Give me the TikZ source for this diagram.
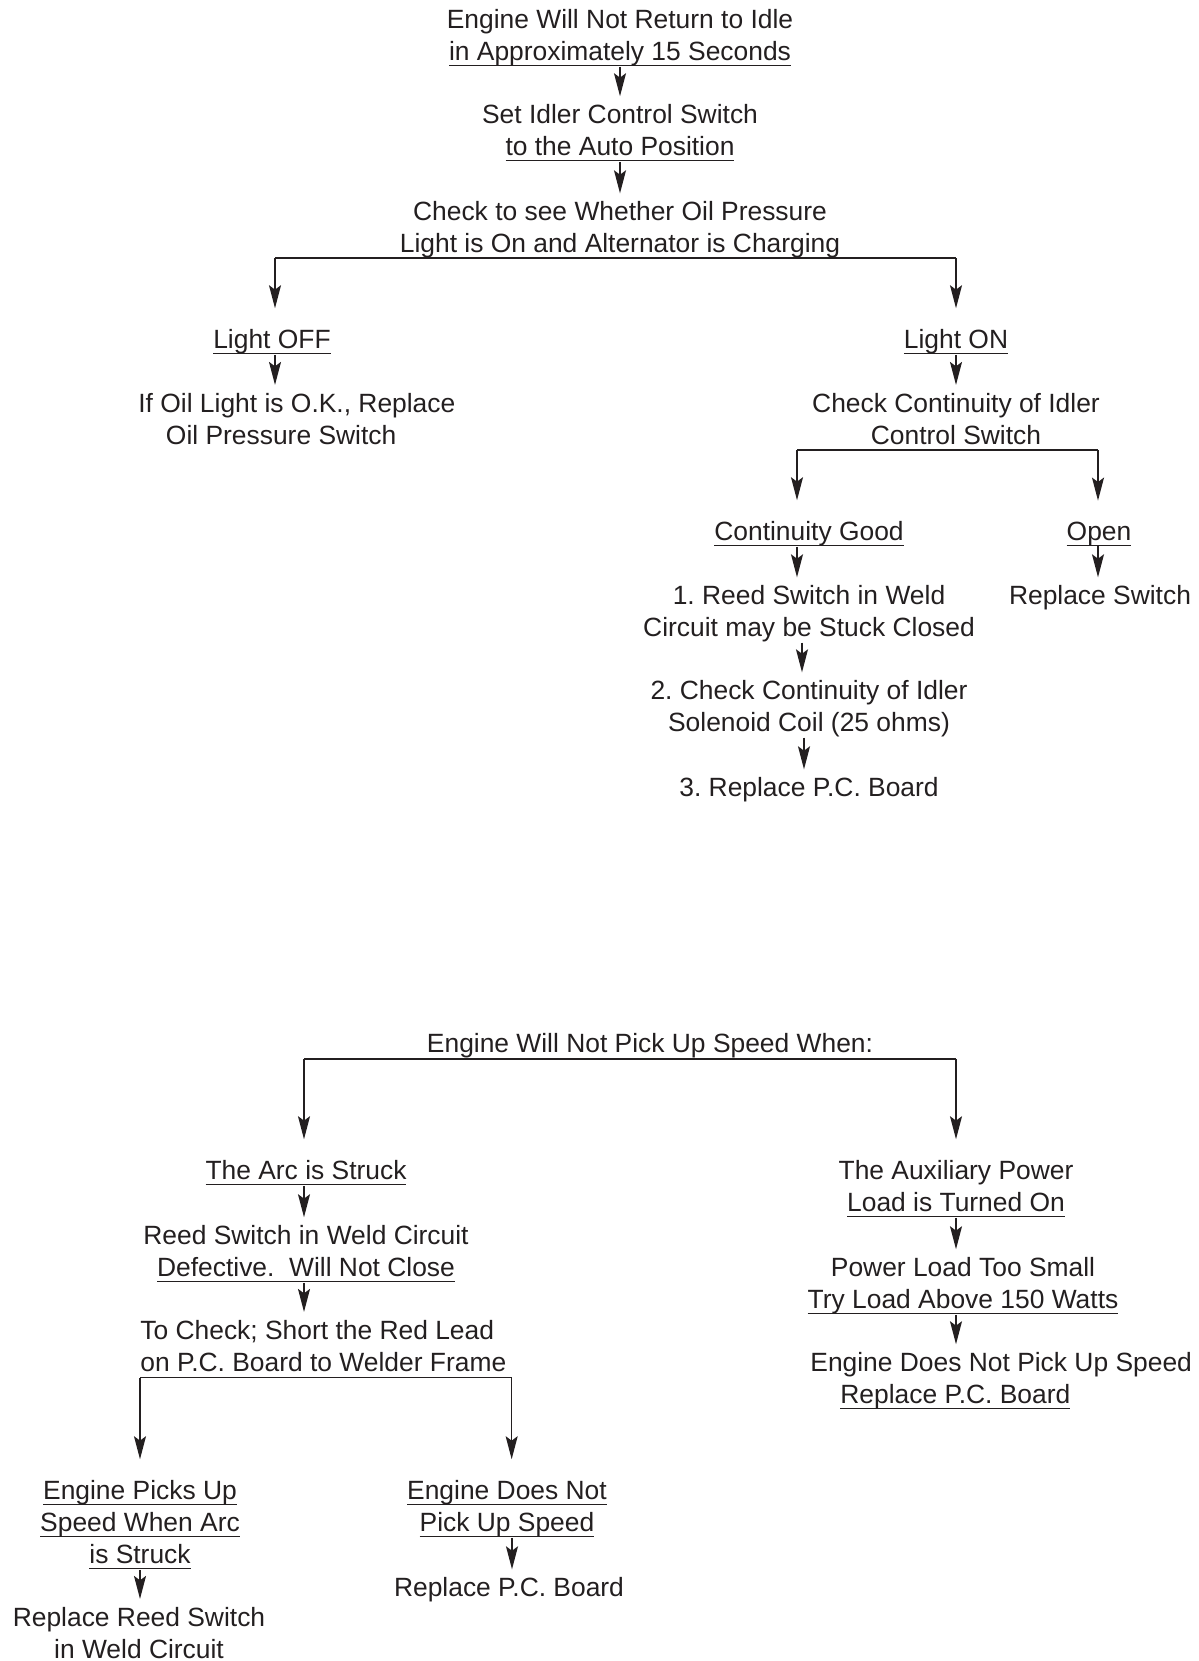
\documentclass[tikz,border=0pt]{standalone}
\usepackage{fontspec}
\setmainfont{Liberation Sans}
\usetikzlibrary{arrows.meta}
\definecolor{ink}{HTML}{231F20}
\newcommand\myul[1]{\leavevmode\setbox0\hbox{#1}\rlap{\color{ink}\rule[-2.8pt]{\wd0}{0.6pt}}\box0}
\begin{document}
\frenchspacing
\begin{tikzpicture}[x=0.5pt,y=-0.5pt,
  txt/.style={inner sep=0pt, align=center, yshift=-1.5pt, font=\fontsize{13.2}{16}\selectfont\frenchspacing, text=ink},
  arr/.style={draw=ink, line width=0.7pt, -{Stealth[length=11.5pt,width=6pt,inset=2.2pt]}},
  stem/.style={arr, shorten >=4pt},
  br/.style={arr, shorten >=10.5pt},
  ln/.style={draw=ink, line width=0.7pt}]
\useasboundingbox (0,0) rectangle (1199,1661);

% ---------- top chart ----------
\node[txt] (n1) at (620,35) {Engine Will Not Return to Idle\\\myul{in Approximately 15 Seconds}};
\node[txt] (n2) at (620,130) {Set Idler Control Switch\\\myul{to the Auto Position}};
\node[txt] (n3) at (620,227) {Check to see Whether Oil Pressure\\Light is On and Alternator is Charging};
\draw[stem] (n1.south) -- (n1.south |- n2.north);
\draw[stem] (n2.south) -- (n2.south |- n3.north);

\coordinate (b1l) at (275,258);
\coordinate (b1r) at (956,258);
\draw[ln] (b1l) -- (b1r);
\node[txt] (off) at (272,339) {\myul{Light OFF}};
\node[txt] (on) at (956,339) {\myul{Light ON}};
\draw[br] (b1l) -- (b1l |- off.north);
\draw[br] (b1r) -- (b1r |- on.north);

\node[txt, anchor=west, align=left] (offtxt) at (138,416) {If Oil Light is O.K., Replace\\\hspace*{13.8pt}Oil Pressure Switch};
\draw[stem] (b1l |- off.south) -- (b1l |- offtxt.north);

\node[txt] (ontxt) at (956,416) {Check Continuity of Idler\\Control Switch};
\draw[stem] (on.south) -- (on.south |- ontxt.north);

\coordinate (b2l) at (797,450);
\coordinate (b2r) at (1098,450);
\draw[ln] (b2l) -- (b2r);
\node[txt] (good) at (809,531) {\myul{Continuity Good}};
\node[txt] (open) at (1099,531) {\myul{Open}};
\draw[br] (b2l) -- (b2l |- good.north);
\draw[br] (b2r) -- (b2r |- open.north);

\node[txt] (r1) at (809,611) {1. Reed Switch in Weld\\Circuit may be Stuck Closed};
\node[txt] (repsw) at (1100,595) {Replace Switch};
\draw[stem] (b2l |- good.south) -- (b2l |- r1.north);
\draw[stem] (b2r |- open.south) -- (b2r |- repsw.north);

\node[txt] (r2) at (809,706) {2. Check Continuity of Idler\\Solenoid Coil (25 ohms)};
\node[txt] (r3) at (809,787) {3. Replace P.C. Board};
\draw[stem] ([xshift=-3.5pt]r1.south) -- ([xshift=-3.5pt]r1.south |- r2.north);
\draw[stem] ([xshift=-2.5pt]r2.south) -- ([xshift=-2.5pt]r2.south |- r3.north);

% ---------- bottom chart ----------
\node[txt] (b) at (650,1043) {Engine Will Not Pick Up Speed When:};
\coordinate (b3l) at (304,1059);
\coordinate (b3r) at (956,1059);
\draw[ln] (b3l) -- (b3r);
\node[txt] (arc) at (306,1170) {\myul{The Arc is Struck}};
\node[txt] (aux) at (956,1186) {The Auxiliary Power\\\myul{Load is Turned On}};
\draw[br] (b3l) -- (b3l |- arc.north);
\draw[br] (b3r) -- (b3r |- aux.north);

\node[txt] (reed) at (306,1251) {Reed Switch in Weld Circuit\\\myul{Defective.\ \ Will Not Close}};
\draw[stem] (b3l |- arc.south) -- (b3l |- reed.north);

\node[txt, anchor=west, align=left] (check) at (140,1343) {To Check; Short the Red Lead\\on P.C. Board to Welder Frame};
\draw[stem] (b3l |- reed.south) -- (b3l |- check.north);
\coordinate (cl) at ([yshift=-2.8pt]check.south west);
\coordinate (cr) at ([yshift=-2.8pt,xshift=2.5pt]check.south east);
\draw[ln] (cl) -- (cr);

\node[txt] (picks) at (140,1522) {\myul{Engine Picks Up}\\\myul{Speed When Arc}\\\myul{is Struck}};
\node[txt] (notpick) at (507,1506) {\myul{Engine Does Not}\\\myul{Pick Up Speed}};
\draw[br] (cl) -- (cl |- picks.north);
\draw[br] (cr) -- (cr |- notpick.north);

\node[txt] (reps) at (139,1630) {Replace Reed Switch\\in Weld Circuit};
\draw[stem] (picks.south) -- (picks.south |- reps.north);
\node[txt] (rpc2) at (509,1587) {Replace P.C. Board};
\draw[stem] ([xshift=2.5pt]notpick.south) -- ([xshift=2.5pt]notpick.south |- rpc2.north);

\node[txt] (small) at (963,1283) {Power Load Too Small\\\myul{Try Load Above 150 Watts}};
\draw[stem] (b3r |- aux.south) -- (b3r |- small.north);
\node[txt, anchor=west, align=left] (rpc3) at (810,1378) {Engine Does Not Pick Up Speed\\\hspace*{15pt}\myul{Replace P.C. Board}};
\draw[stem] (b3r |- small.south) -- (b3r |- rpc3.north);
\end{tikzpicture}
\end{document}
